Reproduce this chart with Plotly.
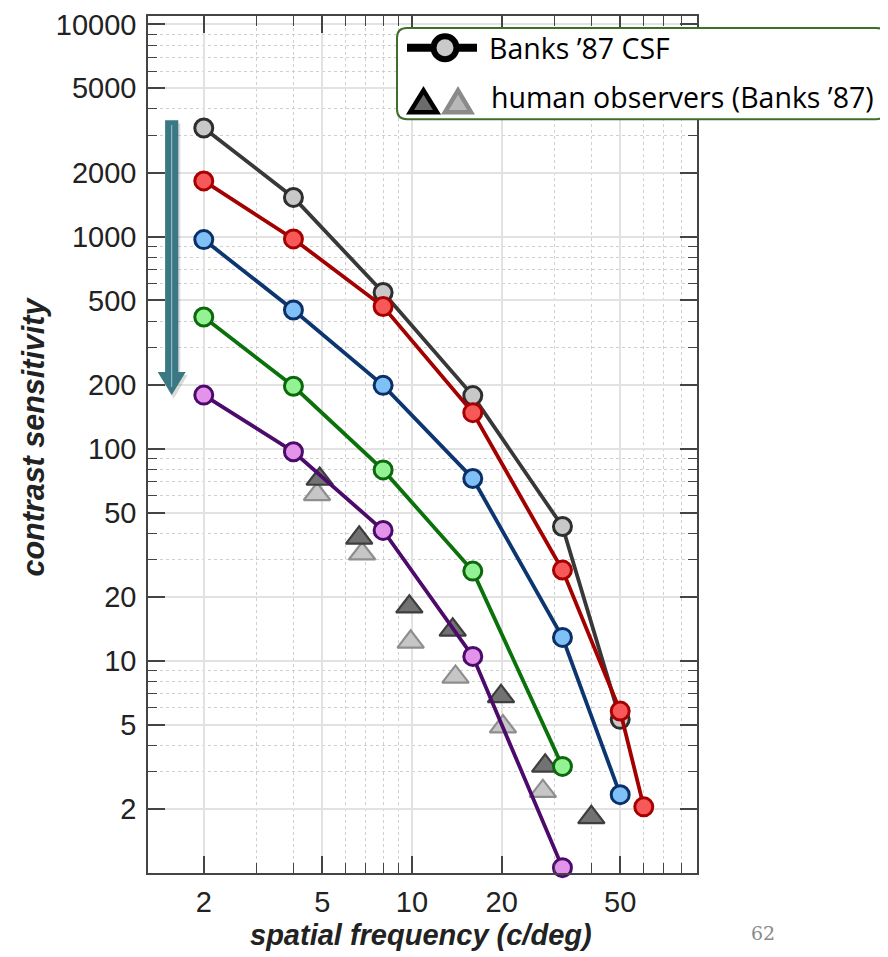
import plotly.graph_objects as go

# ---------------- data ----------------
freq_gray = [2, 4, 8, 16, 32, 50]
cs_gray = [3250, 1530, 545, 178, 43, 5.3]
freq_red = [2, 4, 8, 16, 32, 50, 60]
cs_red = [1830, 975, 468, 148, 26.8, 5.8, 2.05]
freq_blue = [2, 4, 8, 16, 32, 50]
cs_blue = [968, 451, 199, 72.4, 12.9, 2.34]
freq_green = [2, 4, 8, 16, 32]
cs_green = [418, 197, 79.5, 26.5, 3.18]
freq_purple = [2, 4, 8, 16, 32]
cs_purple = [179, 96.8, 41.2, 10.5, 1.06]

obs_dark_freq = [4.9, 6.65, 9.8, 13.7, 19.9, 28, 40]
obs_dark_cs = [72, 38, 18, 14, 6.8, 3.2, 1.83]
obs_light_freq = [4.8, 6.8, 9.9, 14, 20.2, 27.5]
obs_light_cs = [61, 32, 12.3, 8.4, 4.9, 2.43]

x_ticks = [2, 5, 10, 20, 50]
x_minor = [3, 4, 6, 7, 8, 9, 30, 40, 60, 70, 80, 90]
y_ticks = [2, 5, 10, 20, 50, 100, 200, 500, 1000, 2000, 5000, 10000]
y_minor = [m * d for d in [1, 10, 100, 1000] for m in [3, 4, 6, 7, 8, 9]]

# ---------------- layout geometry (screen pixels) ----------------
DX, DY = 8, 12          # page offset of the figure in the browser
FW, FH = 880, 945       # figure size
L, R, T, B = 148, 697, 13, 877   # plot area on screen
PW, PH = R - L, B - T


def px(x):
    return (x - L) / PW


def py(y):
    return (B - y) / PH


fig = go.Figure()

# human observer triangles
fig.add_trace(go.Scatter(x=obs_light_freq, y=obs_light_cs, mode="markers",
                         marker=dict(symbol="triangle-up", size=23, color="#c6c6c6",
                                     line=dict(color="#8e8e8e", width=2.2)),
                         showlegend=False, cliponaxis=False))
fig.add_trace(go.Scatter(x=obs_dark_freq, y=obs_dark_cs, mode="markers",
                         marker=dict(symbol="triangle-up", size=23, color="#727272",
                                     line=dict(color="#3e3e3e", width=2.2)),
                         showlegend=False, cliponaxis=False))

series = [
    (freq_gray, cs_gray, "#383838", "#c8c8c8", "#2e2e2e"),
    (freq_red, cs_red, "#a30000", "#f75858", "#a80000"),
    (freq_blue, cs_blue, "#0b3670", "#7fc0f7", "#0b3068"),
    (freq_green, cs_green, "#0b720b", "#93f293", "#0b680b"),
    (freq_purple, cs_purple, "#4c0b6a", "#e393ea", "#4c0b6a"),
]
for xs, ys, lc, fc, bc in series:
    fig.add_trace(go.Scatter(x=xs, y=ys, mode="lines+markers",
                             line=dict(color=lc, width=3.8),
                             marker=dict(symbol="circle", size=18, color=fc,
                                         line=dict(color=bc, width=3)),
                             showlegend=False, cliponaxis=False))

shapes = []
# ---- arrow (teal) ----
ax_c, ax_top, ax_base, ax_tip = 171.7, 118, 372, 395
sh_w, head_w = 6.6, 14
sdx, sdy = 2, 3
shapes.append(dict(type="path", xref="paper", yref="paper", layer="above",
                   path=(f"M{px(ax_c - sh_w + sdx)},{py(ax_top + sdy)} L{px(ax_c + sh_w + sdx)},{py(ax_top + sdy)} "
                         f"L{px(ax_c + sh_w + sdx)},{py(ax_base + sdy)} L{px(ax_c + head_w + sdx)},{py(ax_base + sdy)} "
                         f"L{px(ax_c + sdx)},{py(ax_tip + sdy + 1)} L{px(ax_c - head_w + sdx)},{py(ax_base + sdy)} "
                         f"L{px(ax_c - sh_w + sdx)},{py(ax_base + sdy)} Z"),
                   fillcolor="rgba(110,110,110,0.25)", line=dict(width=0)))
shapes.append(dict(type="path", xref="paper", yref="paper", layer="above",
                   path=(f"M{px(ax_c - sh_w)},{py(ax_top)} L{px(ax_c + sh_w)},{py(ax_top)} "
                         f"L{px(ax_c + sh_w)},{py(ax_base)} L{px(ax_c + head_w)},{py(ax_base)} "
                         f"L{px(ax_c)},{py(ax_tip)} L{px(ax_c - head_w)},{py(ax_base)} "
                         f"L{px(ax_c - sh_w)},{py(ax_base)} Z"),
                   fillcolor="#3a7884", line=dict(width=0)))
shapes.append(dict(type="line", xref="paper", yref="paper", layer="above",
                   x0=px(ax_c), x1=px(ax_c), y0=py(ax_top + 5), y1=py(ax_tip - 8),
                   line=dict(color="#9cc9d2", width=1)))

# ---- legend box ----
bx0, bx1, by0, by1, rr = 397, 886, 25, 117, 10
rx, ry = rr / PW, rr / PH
X0, X1, Y0, Y1 = px(bx0), px(bx1), py(by1), py(by0)
box_path = (f"M{X0 + rx},{Y1} L{X1 - rx},{Y1} Q{X1},{Y1} {X1},{Y1 - ry} "
            f"L{X1},{Y0 + ry} Q{X1},{Y0} {X1 - rx},{Y0} L{X0 + rx},{Y0} "
            f"Q{X0},{Y0} {X0},{Y0 + ry} L{X0},{Y1 - ry} Q{X0},{Y1} {X0 + rx},{Y1} Z")
shapes.append(dict(type="path", xref="paper", yref="paper", layer="above",
                   path=box_path, fillcolor="white", line=dict(color="#3f6d2c", width=2)))
# legend glyph row 1: line + circle
shapes.append(dict(type="line", xref="paper", yref="paper", layer="above",
                   x0=px(407), x1=px(477), y0=py(45), y1=py(45),
                   line=dict(color="black", width=8)))
cr = 11.5
shapes.append(dict(type="circle", xref="paper", yref="paper", layer="above",
                   x0=px(445 - cr), x1=px(445 + cr), y0=py(45 + cr), y1=py(45 - cr),
                   fillcolor="#c9c9c9", line=dict(color="black", width=6)))


def tri(cx, apex, base, half):
    return (f"M{px(cx)},{py(apex)} L{px(cx + half)},{py(base)} "
            f"L{px(cx - half)},{py(base)} Z")


shapes.append(dict(type="path", xref="paper", yref="paper", layer="above",
                   path=tri(423.5, 88, 110, 13.5), fillcolor="#6c6c6c",
                   line=dict(color="black", width=4.5)))
shapes.append(dict(type="path", xref="paper", yref="paper", layer="above",
                   path=tri(458, 88, 110, 13), fillcolor="#b8b8b8",
                   line=dict(color="#8a8a8a", width=4.5)))

annotations = [
    dict(x=px(487), y=py(45), xref="paper", yref="paper", text="Banks ’87 CSF",
         showarrow=False, xanchor="left", yanchor="middle",
         font=dict(family="Open Sans", size=28.5, color="black")),
    dict(x=px(489), y=py(95), xref="paper", yref="paper", text="human observers (Banks ’87)",
         showarrow=False, xanchor="left", yanchor="middle",
         font=dict(family="Open Sans", size=28.5, color="black")),
    dict(x=px(34), y=py(437), xref="paper", yref="paper", text="<b><i>contrast sensitivity</i></b>",
         showarrow=False, textangle=-90, xanchor="center", yanchor="middle",
         font=dict(family="Liberation Sans", size=30.5, color="#222")),
    dict(x=px(421), y=py(940), xref="paper", yref="paper", text="<b><i>spatial frequency (c/deg)</i></b>",
         showarrow=False, xanchor="center", yanchor="middle",
         font=dict(family="Liberation Sans", size=29, color="#222")),
    dict(x=px(763), y=py(937), xref="paper", yref="paper", text="62",
         showarrow=False, xanchor="center", yanchor="middle",
         font=dict(family="DejaVu Serif", size=19, color="#8a8a8a")),
]

axis_common = dict(
    type="log", showline=True, linecolor="#444", linewidth=1.5, mirror="allticks",
    ticks="inside", ticklen=17, tickwidth=1.5, tickcolor="#444",
    showgrid=True, gridcolor="#e2e2e2", gridwidth=1.5, zeroline=False,
    ticklabeloverflow="allow",
    tickfont=dict(family="Liberation Sans", size=29, color="#222"),
)

fig.update_layout(
    width=FW, height=FH,
    margin=dict(l=L - DX, r=FW - (R - DX), t=T - DY, b=FH - (B - DY), pad=0),
    paper_bgcolor="white", plot_bgcolor="white",
    xaxis=dict(**axis_common, range=[0.1138, 1.9568], tickmode="array",
               tickvals=x_ticks, ticktext=[str(v) for v in x_ticks], ticklabelstandoff=2,
               minor=dict(tickmode="array", tickvals=x_minor, ticks="inside", ticklen=10,
                          tickwidth=1.2, tickcolor="#444", showgrid=True,
                          gridcolor="#cfcfcf", griddash="dot", gridwidth=1)),
    yaxis=dict(**axis_common, range=[0, 4.04], tickmode="array",
               tickvals=y_ticks, ticktext=[str(v) for v in y_ticks], ticklabelstandoff=4,
               minor=dict(tickmode="array", tickvals=y_minor, ticks="inside", ticklen=9,
                          tickwidth=1.2, tickcolor="#444", showgrid=True,
                          gridcolor="#cfcfcf", griddash="dot", gridwidth=1)),
    shapes=shapes, annotations=annotations,
)

fig.write_html("out.html")
